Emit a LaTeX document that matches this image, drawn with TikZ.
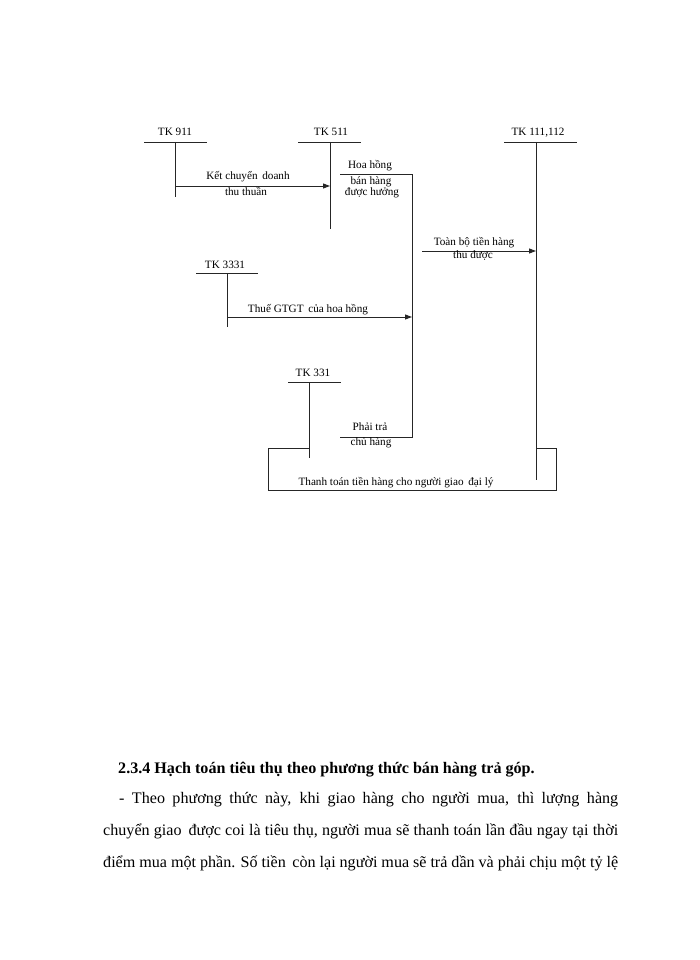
\documentclass[tikz,border=0pt]{standalone}
\usepackage{fontspec}
\setmainfont{Liberation Serif}
\usetikzlibrary{arrows.meta}
\begin{document}
\begin{tikzpicture}[x=1pt,y=-1pt,
  ln/.style={line width=0.9pt,draw=black!85},
  arr/.style={ln,-{Triangle[length=7pt,width=5pt]}},
  lbl/.style={inner sep=0pt,anchor=base,font=\fontsize{11.2}{13}\selectfont},
  para/.style={inner sep=0pt,anchor=base west,font=\fontsize{16.1}{19}\selectfont}]
\useasboundingbox (0,0) rectangle (700,960);
% ---- T accounts ----
\coordinate (a911l) at (144,142); \coordinate (a911r) at (207,142);
\coordinate (a911t) at (175,142); \coordinate (a911b) at (175,197);
\node[lbl] (t911) at (175,136) {TK 911};
\coordinate (a511l) at (298,142); \coordinate (a511r) at (361,142);
\coordinate (a511t) at (330,142); \coordinate (a511b) at (330,229);
\node[lbl] (t511) at (331,136) {TK 511};
\coordinate (a111l) at (504,142); \coordinate (a111r) at (577,142);
\coordinate (a111t) at (536,142); \coordinate (a111b) at (536,480);
\node[lbl] (t111) at (538,136) {TK 111,112};
\coordinate (a3331l) at (196,273); \coordinate (a3331r) at (258,273);
\coordinate (a3331t) at (227,273); \coordinate (a3331b) at (227,327);
\node[lbl] (t3331) at (225,268) {TK 3331};
\coordinate (a331l) at (288,382); \coordinate (a331r) at (341,382);
\coordinate (a331t) at (309,382); \coordinate (a331b) at (309,458);
\node[lbl] (t331) at (313,376) {TK 331};
\foreach \n in {911,511,111,3331,331}{
  \draw[ln] (a\n l) -- (a\n r);
  \draw[ln] (a\n t) -- (a\n b);
}
% ---- arrow 911 -> 511 ----
\coordinate (k1s) at (175,186); \coordinate (k1e) at (330,186);
\draw[arr] (k1s) -- (k1e);
\node[lbl] (k1a) at (248,179) {Kết chuyển\, doanh};
\node[lbl] (k1b) at (246,196) {thu thuần};
% ---- commission line ----
\coordinate (h1) at (340,174); \coordinate (h2) at (412,174);
\coordinate (p1) at (340,437); \coordinate (p2) at (412,437);
\draw[ln] (h1) -- (h2) -- (p2) -- (p1);
\node[lbl] (hh1) at (370,169) {Hoa hồng};
\node[lbl] (hh2) at (371,184) {bán hàng};
\node[lbl] (hh3) at (372,195.5) {được hưởng};
\node[lbl] (pt1) at (370,430) {Phải trả};
\node[lbl] (pt2) at (371,445) {chủ hàng};
% ---- arrow to 111 ----
\coordinate (t2s) at (422,251); \coordinate (t2e) at (536,251);
\draw[arr] (t2s) -- (t2e);
\node[lbl] (tb1) at (474,245) {Toàn bộ tiền hàng};
\node[lbl] (tb2) at (473,258) {thu được};
% ---- arrow 3331 ----
\coordinate (g1s) at (227,317); \coordinate (g1e) at (412,317);
\draw[arr] (g1s) -- (g1e);
\node[lbl] (gt) at (308,312) {Thuế GTGT\, của hoa hồng};
% ---- payment box ----
\coordinate (b1) at (309,448); \coordinate (b2) at (268,448);
\coordinate (b3) at (268,490); \coordinate (b4) at (556,490);
\coordinate (b5) at (556,448); \coordinate (b6) at (536,448);
\draw[ln] (b1) -- (b2) -- (b3) -- (b4) -- (b5) -- (b6);
\node[lbl] (tt) at (396,485) {Thanh toán tiền hàng cho người giao\, đại lý};
% ---- text ----
\node[para,font=\fontsize{16.1}{19}\selectfont\bfseries] (hd) at (118,773) {2.3.4 Hạch toán tiêu thụ theo phương thức bán hàng trả góp.};
\node[para] (l1) at (119,803) {\makebox[499pt][s]{- Theo phương thức này, khi giao hàng cho người mua, thì lượng hàng}};
\node[para] (l2) at (103,835) {\makebox[515pt][s]{chuyển giao\, được coi là tiêu thụ, người mua sẽ thanh toán lần đầu ngay tại thời}};
\node[para] (l3) at (103,867) {\makebox[515pt][s]{điểm mua một phần. Số tiền\, còn lại người mua sẽ trả dần và phải chịu một tỷ lệ}};
\end{tikzpicture}
\end{document}
